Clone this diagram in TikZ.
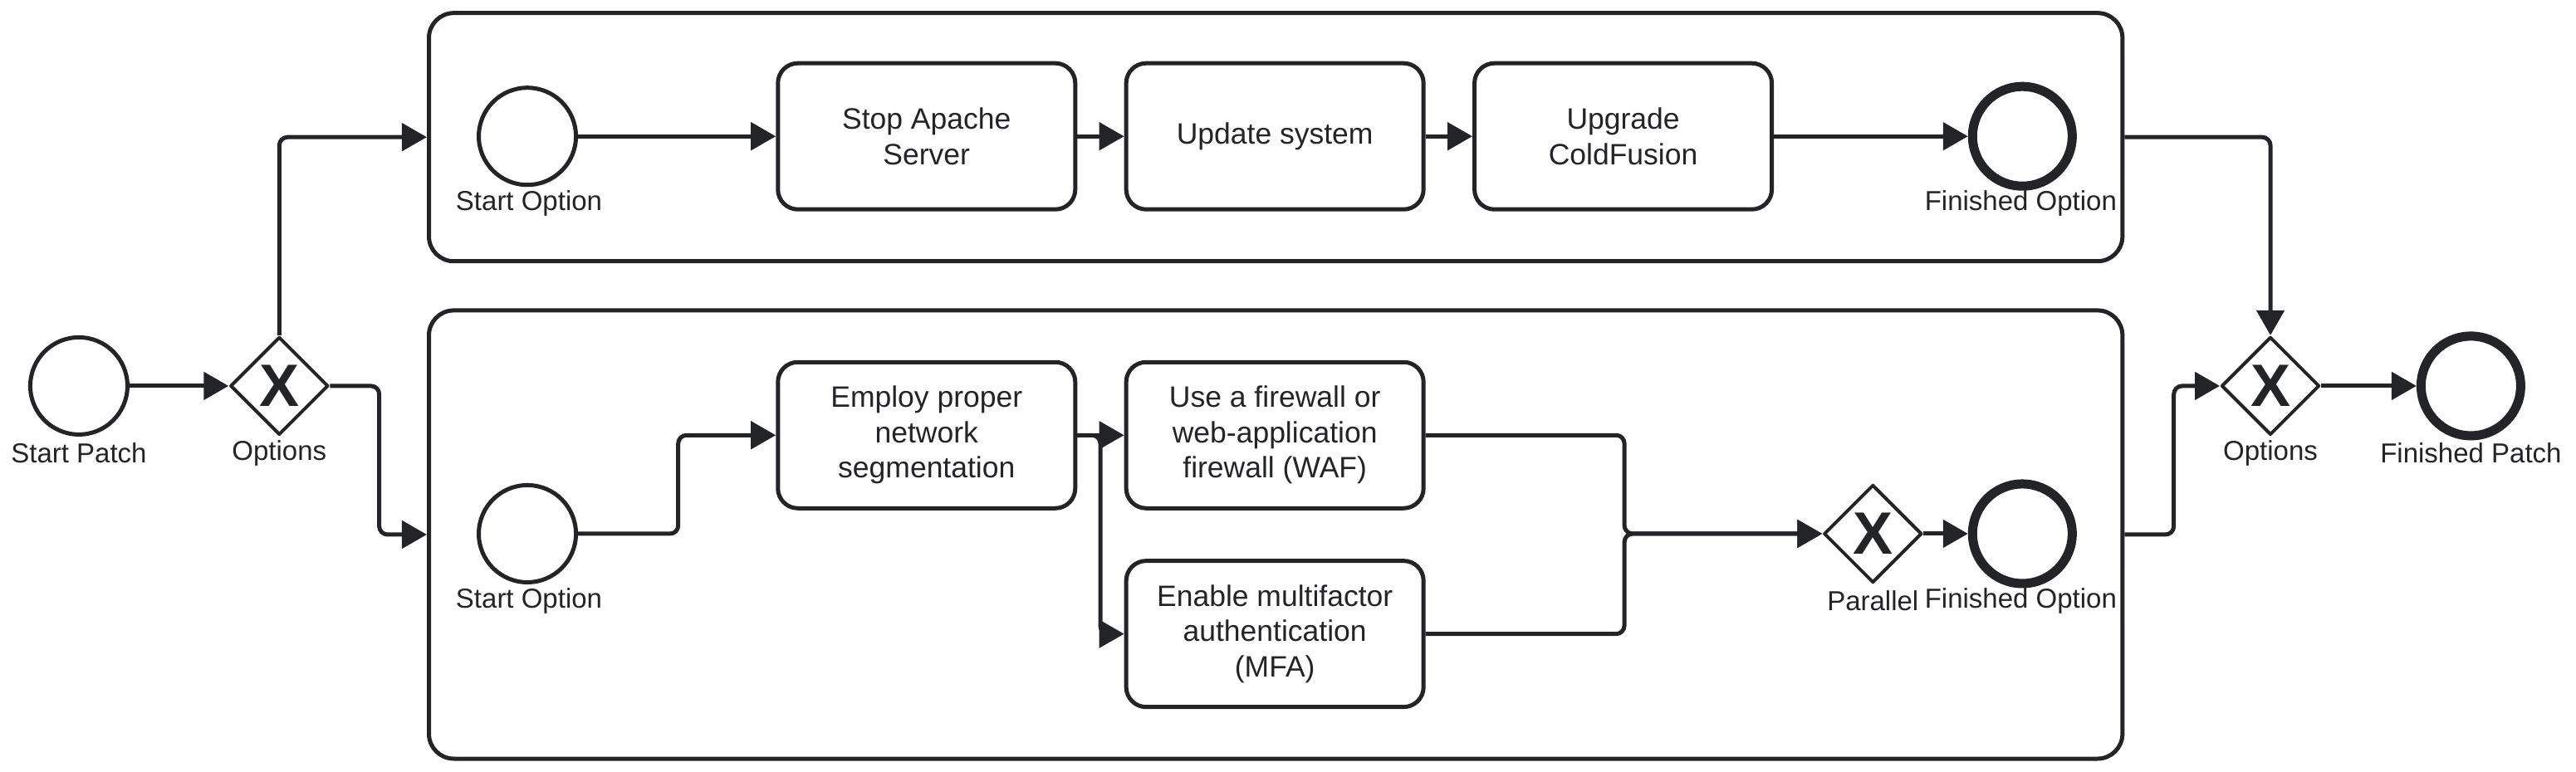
\documentclass[tikz,border=0pt]{standalone}
\usepackage{fontspec}
\setmainfont{Liberation Sans}
\usetikzlibrary{arrows.meta,shapes.geometric}
\definecolor{ink}{RGB}{35,36,40}
\begin{document}
\begin{tikzpicture}[x=1.978pt,y=-1.978pt, line join=round,
 ev/.style={circle,draw=ink,line width=5pt,minimum size=117pt,inner sep=0pt},
 endev/.style={circle,draw=ink,line width=11pt,minimum size=120pt,inner sep=0pt},
 gw/.style={diamond,draw=ink,line width=4pt,minimum size=118pt,inner sep=0pt,aspect=1},
 task/.style={rectangle,rounded corners=24pt,draw=ink,line width=5pt,minimum width=358pt,minimum height=176pt,align=center,font=\fontsize{35.5}{42.5}\selectfont,text=ink,inner sep=0pt},
 pool/.style={rectangle,rounded corners=30pt,draw=ink,line width=5pt,inner sep=0pt},
 lbl/.style={font=\fontsize{33}{40}\selectfont,text=ink,inner sep=0pt},
 xm/.style={font=\fontsize{72}{72}\selectfont\bfseries,text=ink,inner sep=0pt},
 flow/.style={draw=ink,line width=5pt,rounded corners=10pt,-{Triangle[length=30pt,width=33pt]}},
]
\useasboundingbox (0,0) rectangle (1568,470);
% pools
\node[pool,minimum width=2039pt,minimum height=299pt] (p1) at (776.5,83.5) {};
\node[pool,minimum width=2039pt,minimum height=540pt] (p2) at (776.5,325.5) {};
% outer events
\node[ev] (sp) at (48,235) {};
\node[lbl] (lsp) at (48,276) {Start Patch};
\node[gw] (g1) at (170,235) {};
\node[xm] (x1) at (170,235) {X};
\node[lbl] (lg1) at (170,276) {Options};
\node[gw] (g2) at (1382,235) {};
\node[xm] (x2) at (1382,235) {X};
\node[lbl] (lg2) at (1382,276) {Options};
\node[endev] (fp) at (1504,235) {};
\node[lbl] (lfp) at (1504,276) {Finished Patch};
% top pool
\node[ev] (s1) at (321,83) {};
\node[lbl] (ls1) at (322,124) {Start Option};
\node[task] (t1) at (564,83) {Stop Apache\\Server};
\node[task] (t2) at (776,83) {Update system};
\node[task] (t3) at (988,83) {Upgrade\\ColdFusion};
\node[endev] (f1) at (1231,83) {};
\node[lbl] (lf1) at (1230,124) {Finished Option};
% bottom pool
\node[ev] (s2) at (321,325) {};
\node[lbl] (ls2) at (322,366) {Start Option};
\node[task] (t4) at (564,265) {Employ proper\\network\\segmentation};
\node[task] (t5) at (776,265) {Use a firewall or\\web-application\\firewall (WAF)};
\node[task] (t6) at (776,386) {Enable multifactor\\authentication\\(MFA)};
\node[gw] (gp) at (1140,325) {};
\node[xm] (xp) at (1140,325) {X};
\node[lbl] (lgp) at (1140,366) {Parallel};
\node[endev] (f2) at (1231,325) {};
\node[lbl] (lf2) at (1230,366) {Finished Option};
% flows
\draw[flow] (sp) -- (g1.west);
\draw[flow] (g1.north) |- (p1.west);
\draw[flow] (g1.east) -- ++(30,0) |- (p2.west);
\draw[flow] (s1) -- (t1);
\draw[flow] (t1) -- (t2);
\draw[flow] (t2) -- (t3);
\draw[flow] (t3) -- (f1);
\draw[flow] (p1.east) -| (g2.north);
\draw[flow] (p2.east) -- ++(30,0) |- (g2.west);
\draw[flow] (g2.east) -- (fp);
\draw[flow] (s2.east) -- ++(61,0) |- (t4.west);
\draw[flow] (t4.east) -- (t5.west);
\draw[flow] (t4.east) -- ++(14,0) |- (t6.west);
\draw[flow] (t5.east) -- ++(121,0) |- (gp.west);
\draw[flow] (t6.east) -- ++(121,0) |- (gp.west);
\draw[flow] (gp.east) -- (f2);
\end{tikzpicture}
\end{document}
